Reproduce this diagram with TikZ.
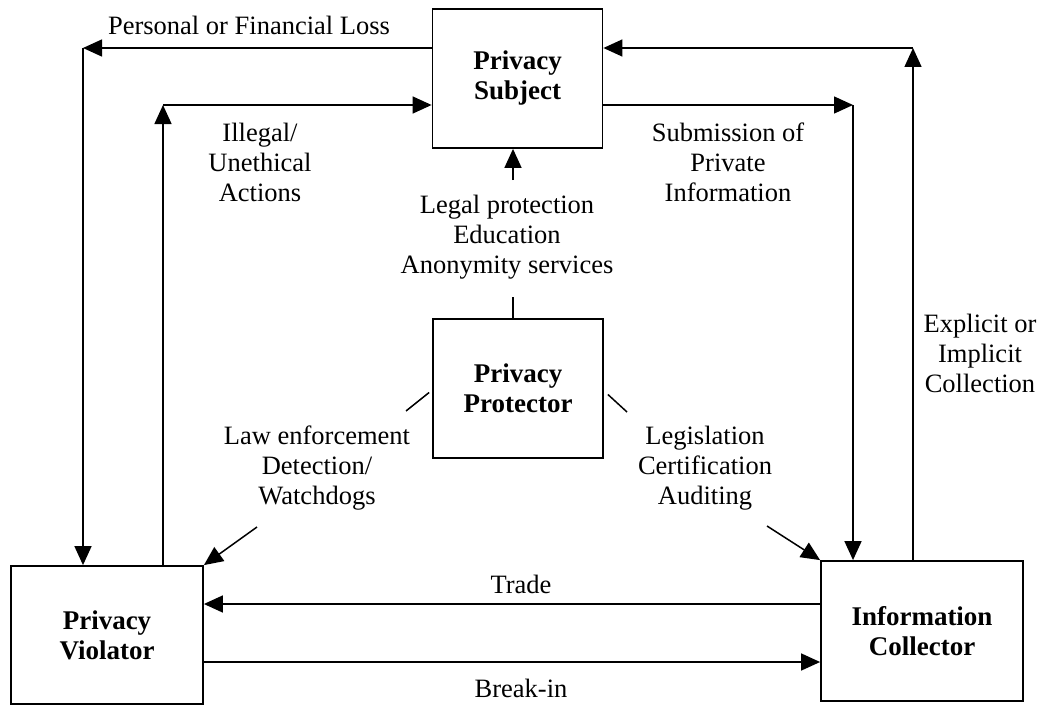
\documentclass[tikz,border=0pt]{standalone}
\usepackage{fontspec}
\setmainfont{Liberation Serif}
\usepackage{tikz}
\usetikzlibrary{arrows.meta}

\begin{document}
\begin{tikzpicture}[x=1pt,y=-1pt,
  actor/.style={draw,line width=1.8pt,align=center,font=\fontsize{27}{30}\selectfont\bfseries,inner sep=0pt},
  lbl/.style={align=center,font=\fontsize{26.5}{30}\selectfont},
  tip/.style={line width=1.5pt,-{Triangle[length=19pt,width=17pt]}},
  plain/.style={line width=1.5pt}]
\useasboundingbox (0,0) rectangle (1048,706);
% the four parties
\node (subject) at (517.5,78.5) [actor,minimum width=170pt,minimum height=139pt] {Privacy\\Subject};
\node (protector) at (518,388.5) [actor,minimum width=170pt,minimum height=139pt] {Privacy\\Protector};
\node (violator) at (107,635) [actor,minimum width=192pt,minimum height=138pt] {Privacy\\Violator};
\node (collector) at (922,631) [actor,minimum width=202pt,minimum height=140pt] {Information\\Collector};
% corners and free ends
\coordinate (lossc) at (83,48);
\coordinate (illc) at (163,105);
\coordinate (collc) at (913,48);
\coordinate (subc) at (853,105);
\coordinate (legtop) at (513,180);
\coordinate (legbot) at (513,297);
\coordinate (lawa) at (406,411);
\coordinate (lawb) at (257,527);
\coordinate (lega) at (627,412);
\coordinate (legb) at (767,526);
\coordinate (tradey) at (0,604);
\coordinate (breaky) at (0,662);
% loss
\draw[tip] (subject.west |- lossc) -- (lossc);
\draw[tip] (lossc) -- (violator.north -| lossc);
% illegal actions
\draw[tip] (violator.north -| illc) -- (illc);
\draw[tip] (illc) -- (subject.west |- illc);
% collection
\draw[tip] (collector.north -| collc) -- (collc);
\draw[tip] (collc) -- (subject.east |- collc);
% submission
\draw[tip] (subject.east |- subc) -- (subc);
\draw[tip] (subc) -- (collector.north -| subc);
% protection
\draw[plain] (protector.north -| legbot) -- (legbot);
\draw[tip] (legtop) -- (subject.south -| legtop);
\draw[plain] ([xshift=-3pt,yshift=-4pt]protector.west) -- (lawa);
\draw[tip] (lawb) -- (violator.north east);
\draw[plain] ([xshift=4pt,yshift=-6pt]protector.east) -- (lega);
\draw[tip] (legb) -- (collector.north west);
% trade and break-in
\draw[tip] (collector.west |- tradey) -- (violator.east |- tradey);
\draw[tip] (violator.east |- breaky) -- (collector.west |- breaky);
% labels
\node (losstxt) at (249,25) [lbl] {Personal or Financial Loss};
\node (illtxt) at (260,162) [lbl] {Illegal/\\Unethical\\Actions};
\node (subtxt) at (728,162) [lbl] {Submission of\\Private\\Information};
\node (legaltxt) at (507,237) [lbl] {Legal protection\\Education\\Anonymity services};
\node (expltxt) at (980,353) [lbl] {Explicit or\\Implicit\\Collection};
\node (lawtxt) at (317,468) [lbl] {Law enforcement\\Detection/\\Watchdogs};
\node (legistxt) at (705,468) [lbl] {Legislation\\Certification\\Auditing};
\node (tradetxt) at (521,584) [lbl] {Trade};
\node (breaktxt) at (521,688) [lbl] {Break-in};
\end{tikzpicture}
\end{document}
